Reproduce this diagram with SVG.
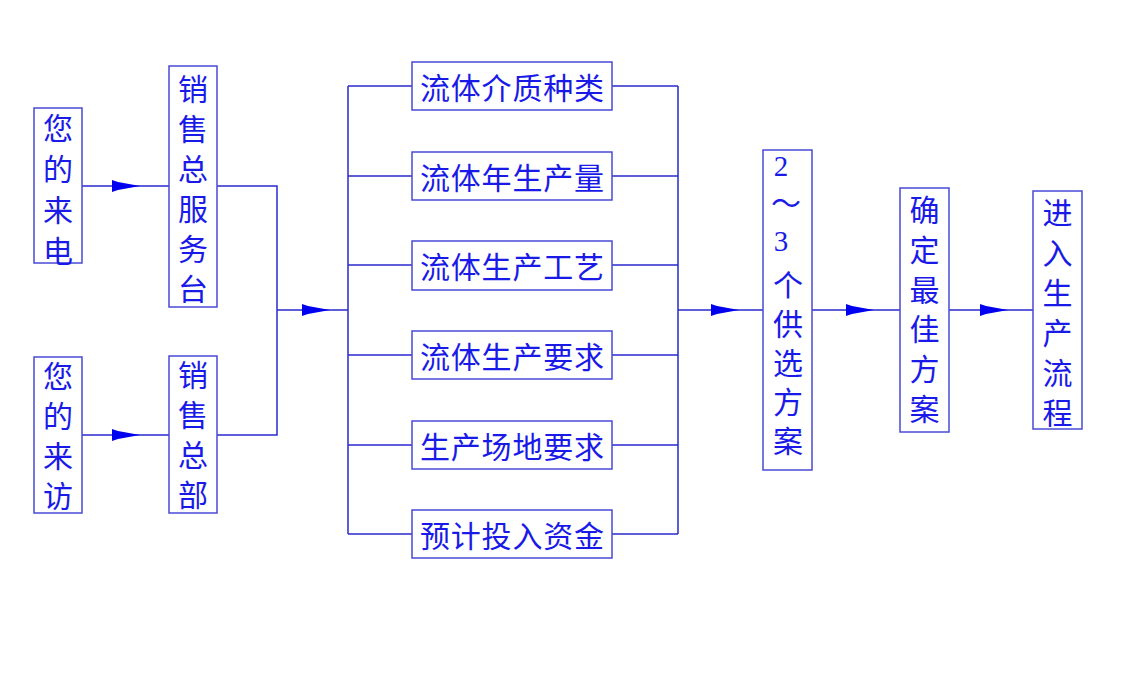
<svg xmlns="http://www.w3.org/2000/svg" width="1128" height="683" viewBox="0 0 1128 683">
<style>
.box{fill:#fff;stroke:#4a4ad8;stroke-width:1.5}
.ln{fill:none;stroke:#2a2ad0;stroke-width:1.5}
.ar{fill:#0000f0;stroke:none}
text{font-family:"Liberation Serif","Noto Sans CJK SC",serif;fill:#1a1ae8;dominant-baseline:central;text-anchor:middle}
.v{font-size:30px}
.h{font-size:30px}
</style>
<defs>
<polygon id="arw" class="ar" points="0,-6 6,-4 28,0 6,4 0,6"/>
</defs>
<rect width="1128" height="683" fill="#fff"/>
<g id="connectors">
<path class="ln" d="M82,186 H169 M82,435 H169 M217,186 H277 V435 H217 M277,310 H348 M348,86 V534 M678,86 V534 M348,86 H412 M348,176 H412 M348,265 H412 M348,355 H412 M348,445 H412 M348,534 H412 M612,86 H678 M612,176 H678 M612,265 H678 M612,355 H678 M612,445 H678 M612,534 H678 M678,310 H763 M812,310 H900 M949,310 H1033"/>
<use href="#arw" x="112" y="186"/>
<use href="#arw" x="112" y="435"/>
<use href="#arw" x="302" y="310"/>
<use href="#arw" x="711" y="310"/>
<use href="#arw" x="846" y="310"/>
<use href="#arw" x="980" y="310"/>
</g>
<g id="n1"><rect class="box" x="34" y="108" width="48" height="155"/>
<text class="v"><tspan x="58" y="127.5">您</tspan><tspan x="58" y="168.5">的</tspan><tspan x="58" y="209.5">来</tspan><tspan x="58" y="250.5">电</tspan></text></g>
<g id="n2"><rect class="box" x="34" y="357" width="48" height="156"/>
<text class="v"><tspan x="58" y="376">您</tspan><tspan x="58" y="416">的</tspan><tspan x="58" y="456">来</tspan><tspan x="58" y="496">访</tspan></text></g>
<g id="n3"><rect class="box" x="169" y="66" width="48" height="241"/>
<text class="v"><tspan x="193" y="88.5">销</tspan><tspan x="193" y="128.5">售</tspan><tspan x="193" y="168.5">总</tspan><tspan x="193" y="208.5">服</tspan><tspan x="193" y="248.5">务</tspan><tspan x="193" y="288.5">台</tspan></text></g>
<g id="n4"><rect class="box" x="169" y="356" width="48" height="157"/>
<text class="v"><tspan x="193" y="375">销</tspan><tspan x="193" y="415">售</tspan><tspan x="193" y="455">总</tspan><tspan x="193" y="495">部</tspan></text></g>
<g id="m1"><rect class="box" x="412" y="62" width="200" height="48"/><text class="h" x="512" y="88" textLength="184" lengthAdjust="spacing">流体介质种类</text></g>
<g id="m2"><rect class="box" x="412" y="152" width="200" height="48"/><text class="h" x="512" y="178" textLength="184" lengthAdjust="spacing">流体年生产量</text></g>
<g id="m3"><rect class="box" x="412" y="241" width="200" height="49"/><text class="h" x="512" y="267" textLength="184" lengthAdjust="spacing">流体生产工艺</text></g>
<g id="m4"><rect class="box" x="412" y="331" width="200" height="48"/><text class="h" x="512" y="357" textLength="184" lengthAdjust="spacing">流体生产要求</text></g>
<g id="m5"><rect class="box" x="412" y="421" width="200" height="48"/><text class="h" x="512" y="447" textLength="184" lengthAdjust="spacing">生产场地要求</text></g>
<g id="m6"><rect class="box" x="412" y="510" width="200" height="48"/><text class="h" x="512" y="536" textLength="184" lengthAdjust="spacing">预计投入资金</text></g>
<g id="r1"><rect class="box" x="763" y="150" width="49" height="320"/>
<text class="v"><tspan x="781" y="166" font-size="29">2</tspan><tspan x="786" y="203">～</tspan><tspan x="781" y="241" font-size="29">3</tspan><tspan x="788" y="284.5">个</tspan><tspan x="788" y="323.5">供</tspan><tspan x="788" y="362.5">选</tspan><tspan x="788" y="401.5">方</tspan><tspan x="788" y="440.5">案</tspan></text></g>
<g id="r2"><rect class="box" x="900" y="188" width="49" height="244"/>
<text class="v"><tspan x="924.5" y="209.5">确</tspan><tspan x="924.5" y="249.5">定</tspan><tspan x="924.5" y="289.5">最</tspan><tspan x="924.5" y="329">佳</tspan><tspan x="924.5" y="369">方</tspan><tspan x="924.5" y="408.5">案</tspan></text></g>
<g id="r3"><rect class="box" x="1033" y="191" width="49" height="238"/>
<text class="v"><tspan x="1057.5" y="212.5">进</tspan><tspan x="1057.5" y="252.5">入</tspan><tspan x="1057.5" y="292.5">生</tspan><tspan x="1057.5" y="332.5">产</tspan><tspan x="1057.5" y="372.5">流</tspan><tspan x="1057.5" y="412.5">程</tspan></text></g>
</svg>
